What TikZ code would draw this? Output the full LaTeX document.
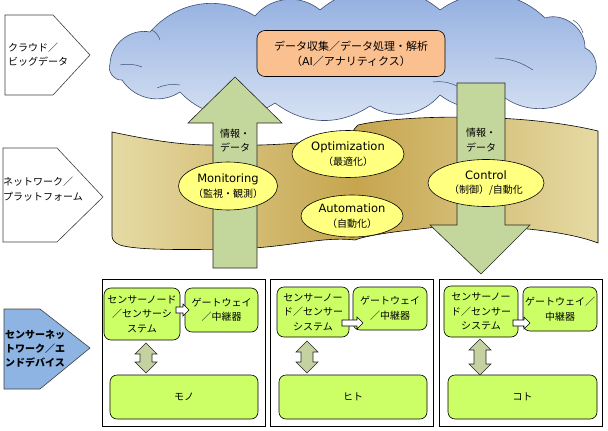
\documentclass[tikz,border=0pt]{standalone}
\usepackage{fontspec}
\setmainfont{Noto Sans CJK JP}
\newfontfamily\latf{DejaVu Sans}
\usetikzlibrary{shapes.geometric}
\definecolor{cloudtop}{RGB}{140,170,222}
\definecolor{cloudbot}{RGB}{218,228,244}
\definecolor{cloudline}{RGB}{60,80,120}
\definecolor{orangebox}{RGB}{250,192,144}
\definecolor{bandlight}{RGB}{230,219,165}
\definecolor{banddark}{RGB}{198,165,78}
\definecolor{arrowgreen}{RGB}{195,214,155}
\definecolor{ellfill}{RGB}{255,255,128}
\definecolor{limebox}{RGB}{204,255,102}
\definecolor{dblgreen}{RGB}{196,209,160}
\definecolor{bluelabel}{RGB}{141,180,226}
\newcommand\dblarr[3]{%
  \draw[dblarrow] (#1,#2) -- ({#1+11},{#2+11}) -- ({#1+6},{#2+11}) -- ({#1+6},{#3-11}) -- ({#1+11},{#3-11}) -- (#1,#3) -- ({#1-11},{#3-11}) -- ({#1-6},{#3-11}) -- ({#1-6},{#2+11}) -- ({#1-11},{#2+11}) -- cycle;}
\newcommand\smarr[3]{%
  \draw[smallarrow] (#1,{#3-3}) -- ({#2-6},{#3-3}) -- ({#2-6},{#3-6}) -- (#2,#3) -- ({#2-6},{#3+6}) -- ({#2-6},{#3+3}) -- (#1,{#3+3}) -- cycle;}
\newcommand\lt[1]{{\latf\fontsize{11.5}{14}\selectfont #1}}
\begin{document}
\begin{tikzpicture}[x=1pt,y=-1pt,
  every node/.style={inner sep=0pt, font=\fontsize{10}{14.5}\selectfont},
  lbl/.style={align=left, anchor=west},
  penta/.style={draw=black!75, line width=0.6pt, fill=white},
  ell/.style={ellipse, draw=black, line width=0.6pt, fill=ellfill, align=center},
  gbox/.style={draw=black, line width=0.6pt, fill=limebox, rounded corners=7pt, align=center},
  outerbox/.style={draw=black, line width=0.8pt, fill=white},
  blk/.style={draw=black!85, line width=0.6pt, fill=arrowgreen},
  dblarrow/.style={draw=black!85, line width=0.6pt, fill=dblgreen},
  smallarrow/.style={draw=black, line width=0.6pt, fill=white},
  crease/.style={draw=cloudline, line width=0.5pt}]
\useasboundingbox (0,0) rectangle (608,431);

% left labels
\draw[penta] (5,15) -- (53,15) -- (90,55) -- (53,95) -- (5,95) -- cycle;
\node[lbl] (l1) at (8,54.5) {クラウド／\\ビッグデータ};
\draw[penta] (3,148) -- (57,148) -- (103,197) -- (57,242) -- (3,242) -- cycle;
\node[lbl] (l2) at (3,189) {ネットワーク／\\プラットフォーム};
\draw[penta, fill=bluelabel] (4,309) -- (40,309) -- (90,348) -- (40,389) -- (4,389) -- cycle;
\node[lbl, font=\fontsize{10}{14}\selectfont\bfseries] (l3) at (5,349) {センサーネッ\\トワーク／エ\\ンドデバイス};

% cloud
\shade[top color=cloudtop, bottom color=cloudbot, draw=cloudline, line width=0.6pt]
  (110,64) to[bend left=50] (150,32) to[bend left=40] (255,16) to[bend left=45] (320,10)
  to[bend left=40] (440,10) to[bend left=40] (545,18) to[bend left=55] (585,48)
  to[bend left=60] (590,82) to[bend left=45] (505,98) to[bend left=35] (440,95)
  to[bend left=40] (370,106) to[bend left=35] (275,103) to[bend left=40] (180,92)
  to[bend left=45] (122,80) to[bend left=60] (110,64) -- cycle;
\draw[crease] (120,65) to[bend left=15] (142,67);
\draw[crease] (152,30) to[bend left=20] (160,40);
\draw[crease] (157,88) to[bend left=15] (180,85);
\draw[crease] (495,58) to[bend left=15] (533,70);
\draw[crease] (433,82) to[bend left=15] (457,86);
\draw[crease] (573,20) to[bend left=20] (583,33);

\node[draw=black, line width=0.6pt, fill=orangebox, rounded corners=8pt, minimum width=188, minimum height=46, align=center, font=\fontsize{11}{15}\selectfont] (ana) at (351,53.5) {データ収集／データ処理・解析\\（{\latf AI}／アナリティクス）};

% band
\begin{scope}
\clip (112,132) .. controls (150,140) and (180,145) .. (210,145) .. controls (250,146) and (300,145) .. (333,138) .. controls (342,136) and (348,135) .. (352,133) .. controls (354,130) and (355,127) .. (358,125) .. controls (400,115) and (520,112) .. (598,131) -- (598,243) .. controls (560,228) and (470,222) .. (420,229) .. controls (390,232) and (365,236) .. (355,240) .. controls (320,236) and (290,248) .. (230,249) .. controls (180,250) and (135,250) .. (120,245) .. controls (115,243) and (112,240) .. (112,236) -- cycle;
\shade[left color=bandlight, right color=banddark] (110,110) rectangle (356,260);
\shade[left color=banddark, right color=bandlight] (356,110) rectangle (600,260);
\end{scope}
\draw[black, line width=0.6pt] (112,132) .. controls (150,140) and (180,145) .. (210,145) .. controls (250,146) and (300,145) .. (333,138) .. controls (342,136) and (348,135) .. (352,133) .. controls (354,130) and (355,127) .. (358,125) .. controls (400,115) and (520,112) .. (598,131) -- (598,243) .. controls (560,228) and (470,222) .. (420,229) .. controls (390,232) and (365,236) .. (355,240) .. controls (320,236) and (290,248) .. (230,249) .. controls (180,250) and (135,250) .. (120,245) .. controls (115,243) and (112,240) .. (112,236) -- cycle;

% big arrows
\draw[blk] (213,268) -- (213,123) -- (188,123) -- (235,77) -- (282,123) -- (257,123) -- (257,268) -- cycle;
\draw[blk] (457,83) -- (505,83) -- (505,225) -- (530,225) -- (481,274) -- (430,225) -- (457,225) -- cycle;
\node[align=center] (inf1) at (235,140.5) {情報・\\データ};
\node[align=center] (inf2) at (481,140) {情報・\\データ};

% ellipses
\node[ell, minimum width=92, minimum height=48] (mon) at (228,186) {\lt{Monitoring}\\（監視・観測）};
\node[ell, minimum width=112, minimum height=47] (opt) at (348,154) {\lt{Optimization}\\（最適化）};
\node[ell, minimum width=102, minimum height=42] (aut) at (352,216) {\lt{Automation}\\（自動化）};
\node[ell, minimum width=116, minimum height=47] (ctl) at (486,183) {\lt{Control}\\（制御）/自動化};

% bottom boxes
\draw[outerbox] (102,279) rectangle (265,426);
\draw[outerbox] (270,279) rectangle (433,426);
\draw[outerbox] (439,279) rectangle (602,426);

\node[gbox, minimum width=76, minimum height=52] (s1) at (142,314) {センサーノード\\／センサーシ\\ステム};
\node[gbox, minimum width=73, minimum height=44] (g1) at (221.5,310) {ゲートウェイ\\／中継器};
\node[gbox, minimum width=148, minimum height=44] (m1) at (184,397) {モノ};
\smarr{176}{189}{310}
\dblarr{146}{343}{373}

\node[gbox, minimum width=72, minimum height=50] (s2) at (313,312) {センサーノー\\ド／センサー\\システム};
\node[gbox, minimum width=74, minimum height=43] (g2) at (390,308.5) {ゲートウェイ\\／中継器};
\node[gbox, minimum width=148, minimum height=44] (m2) at (353,397) {ヒト};
\smarr{342}{363}{323}
\dblarr{307}{341}{373}

\node[gbox, minimum width=74, minimum height=51] (s3) at (481,311.5) {センサーノー\\ド／センサー\\システム};
\node[gbox, minimum width=74, minimum height=44] (g3) at (560,309) {ゲートウェイ／\\中継器};
\node[gbox, minimum width=149, minimum height=44] (m3) at (522.5,397) {コト};
\smarr{513}{530}{323}
\dblarr{480}{339}{375}
\end{tikzpicture}
\end{document}
